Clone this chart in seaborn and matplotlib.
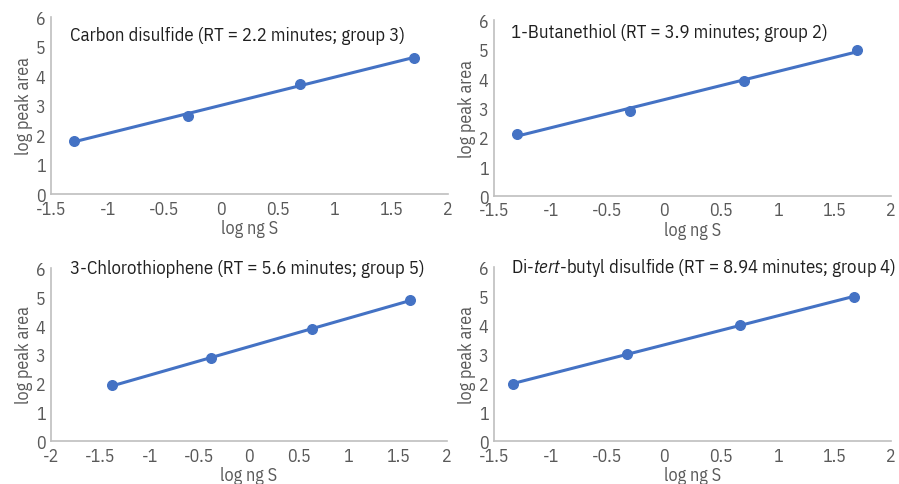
import matplotlib
matplotlib.use("Agg")
import matplotlib.pyplot as plt
import numpy as np
import seaborn as sns

# Values (log ng S vs log peak area)
titles = [
    "Carbon disulfide (RT = 2.2 minutes; group 3)",
    "1-Butanethiol (RT = 3.9 minutes; group 2)",
    "3-Chlorothiophene (RT = 5.6 minutes; group 5)",
    "Di-$\\mathit{tert}$-butyl disulfide (RT = 8.94 minutes; group 4)",
]
cs2_x = [-1.30, -0.29, 0.70, 1.70]
cs2_y = [1.80, 2.65, 3.72, 4.62]
butanethiol_x = [-1.30, -0.30, 0.70, 1.70]
butanethiol_y = [2.12, 2.88, 3.92, 4.97]
chlorothiophene_x = [-1.38, -0.38, 0.64, 1.63]
chlorothiophene_y = [1.93, 2.87, 3.90, 4.88]
ditbds_x = [-1.33, -0.33, 0.67, 1.67]
ditbds_y = [1.97, 3.00, 4.00, 4.97]

xlims = [(-1.5, 2), (-1.5, 2), (-2, 2), (-1.5, 2)]
xticks = [np.arange(-1.5, 2.01, 0.5), np.arange(-1.5, 2.01, 0.5),
          np.arange(-2, 2.01, 0.5), np.arange(-1.5, 2.01, 0.5)]

sns.set_theme(style="white")
font = 'IBM Plex Sans Condensed'
plt.rcParams['font.family'] = [font, 'DejaVu Sans']
plt.rcParams['mathtext.fontset'] = 'custom'
plt.rcParams['mathtext.rm'] = font
plt.rcParams['mathtext.it'] = font + ':italic'

blue = '#4472C4'
grey = '#595959'

fig = plt.figure(figsize=(8.99, 4.85), dpi=100)
positions = [
    [0.0567, 0.598, 0.4413, 0.365],
    [0.5495, 0.594, 0.4416, 0.363],
    [0.0567, 0.0887, 0.4405, 0.3567],
    [0.5495, 0.0887, 0.4416, 0.3587],
]
title_pos = [(0.048, 0.90), (0.043, 0.93), (0.048, 1.0), (0.043, 1.0)]
data = [(cs2_x, cs2_y), (butanethiol_x, butanethiol_y),
        (chlorothiophene_x, chlorothiophene_y), (ditbds_x, ditbds_y)]

for i, (xs, ys) in enumerate(data):
    ax = fig.add_axes(positions[i])
    sns.regplot(x=np.array(xs), y=np.array(ys), ax=ax, ci=None, color=blue,
                scatter_kws={'s': 48, 'alpha': 1, 'zorder': 3},
                line_kws={'lw': 2.2})
    ax.set_xlim(*xlims[i])
    ax.set_ylim(0, 6)
    ax.set_xticks(xticks[i])
    ax.set_xticklabels([f"{t:g}" for t in xticks[i]])
    ax.set_yticks(range(0, 7))
    ax.tick_params(colors=grey, labelsize=13, length=0)
    ax.tick_params(axis='x', pad=4)
    ax.tick_params(axis='y', pad=4)
    for s in ['top', 'right']:
        ax.spines[s].set_visible(False)
    for s in ['left', 'bottom']:
        ax.spines[s].set_color('#bfbfbf')
        ax.spines[s].set_linewidth(1.2)
    ax.set_xlabel('log ng S', color=grey, fontsize=13, labelpad=1)
    ax.set_ylabel('log peak area', color=grey, fontsize=13, labelpad=2)
    ax.text(title_pos[i][0], title_pos[i][1], titles[i], transform=ax.transAxes,
            ha='left', va='center', fontsize=13.5, color='#1f1f1f')

fig.savefig('out.png', dpi=100)
